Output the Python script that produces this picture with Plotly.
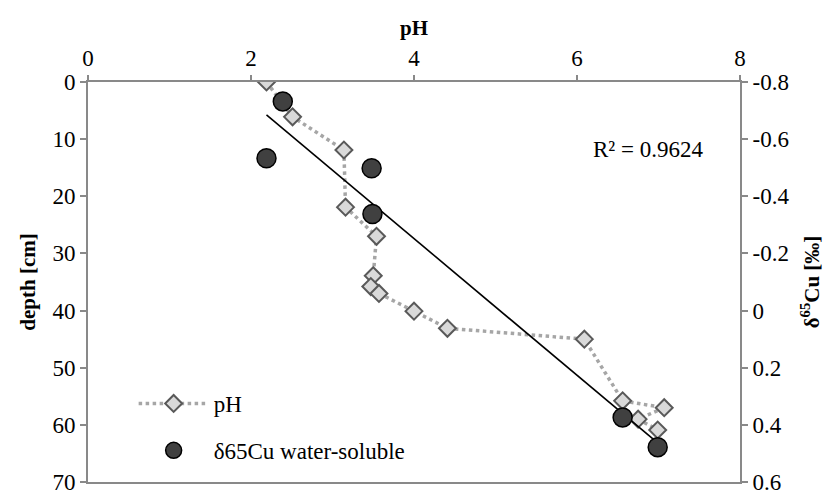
import numpy as np
import plotly.graph_objects as go

# Soil profile: pH against depth
ph_values = [2.19, 2.51, 3.14, 3.16, 3.54, 3.50, 3.47, 3.57, 4.00, 4.41, 6.09, 6.56, 7.07, 6.75, 6.99]
ph_depth = [0, 6.1, 11.9, 21.9, 27.0, 33.9, 35.8, 37.0, 40.1, 43.1, 45.0, 55.8, 57.0, 59.0, 60.9]

# Water-soluble copper isotope composition against pH
cu_ph = [2.39, 2.19, 3.48, 3.49, 6.56, 6.99]
cu_delta = [-0.732, -0.533, -0.498, -0.338, 0.374, 0.478]

x_ticks = [0, 2, 4, 6, 8]
depth_ticks = [0, 10, 20, 30, 40, 50, 60, 70]
delta_ticks = [-0.8, -0.6, -0.4, -0.2, 0, 0.2, 0.4, 0.6]
delta_labels = ["-0.8", "-0.6", "-0.4", "-0.2", "0", "0.2", "0.4", "0.6"]

# Linear trend of delta65Cu versus pH
slope, intercept = np.polyfit(cu_ph, cu_delta, 1)
fit_x = np.array([min(cu_ph), max(cu_ph)])
fit_y = slope * fit_x + intercept
pred = slope * np.array(cu_ph) + intercept
ss_res = np.sum((np.array(cu_delta) - pred) ** 2)
ss_tot = np.sum((np.array(cu_delta) - np.mean(cu_delta)) ** 2)
r2 = 1 - ss_res / ss_tot

FONT = "Liberation Serif"
AXIS = "#898989"
FS = 23

fig = go.Figure()
fig.add_trace(go.Scatter(
    x=ph_values, y=ph_depth, name="pH", mode="lines+markers",
    line=dict(color="#A6A6A6", width=3.5, dash="dot"),
    marker=dict(symbol="diamond", size=13, color="#D9D9D9",
                line=dict(color="#595959", width=2)),
    xaxis="x", yaxis="y", legendgroup="a",
))
fig.add_trace(go.Scatter(
    x=fit_x, y=fit_y, mode="lines", showlegend=False,
    line=dict(color="black", width=1.6),
    xaxis="x", yaxis="y2",
))
fig.add_trace(go.Scatter(
    x=cu_ph, y=cu_delta, name="δ65Cu water-soluble", mode="markers",
    marker=dict(symbol="circle", size=19, color="#404040",
                line=dict(color="black", width=1.5)),
    xaxis="x", yaxis="y2", legendgroup="b",
))

tickfont = dict(family=FONT, size=FS, color="black")
titlefont = dict(family=FONT, size=21, color="black")

fig.update_layout(
    width=826, height=495,
    margin=dict(l=88, r=86, t=82, b=13),
    paper_bgcolor="white", plot_bgcolor="white",
    font=dict(family=FONT, size=FS, color="black"),
    showlegend=True,
    legend=dict(x=0.07, y=0.25, xanchor="left", yanchor="top",
                bgcolor="rgba(0,0,0,0)", itemwidth=70,
                tracegroupgap=14, font=dict(family=FONT, size=FS, color="black")),
    xaxis=dict(
        side="top", range=[0, 8], tickvals=x_ticks, tickfont=tickfont,
        showline=True, linecolor=AXIS, linewidth=2, mirror=True,
        ticks="outside", ticklen=5, tickcolor=AXIS, tickwidth=1.5,
        showgrid=False, zeroline=False, ticklabeloverflow="allow",
        automargin=False,
        title=dict(text="<b>pH</b>", standoff=4, font=titlefont),
    ),
    yaxis=dict(
        range=[70, 0], tickvals=depth_ticks, tickfont=tickfont,
        showline=True, linecolor=AXIS, linewidth=2,
        ticks="outside", ticklen=6, tickcolor=AXIS, tickwidth=1.5,
        showgrid=False, zeroline=False, ticklabeloverflow="allow",
        automargin=False,
        title=dict(text="<b>depth [cm]</b>", standoff=11, font=titlefont),
    ),
    yaxis2=dict(
        overlaying="y", side="right", range=[0.6, -0.8],
        tickvals=delta_ticks, ticktext=delta_labels, tickfont=tickfont,
        showline=True, linecolor=AXIS, linewidth=2,
        ticks="outside", ticklen=6, tickcolor=AXIS, tickwidth=1.5,
        showgrid=False, zeroline=False, ticklabeloverflow="allow",
        automargin=False,
        title=dict(text="<b>δ<sup>65</sup>Cu [‰]</b>", standoff=16, font=titlefont),
    ),
    annotations=[dict(
        x=6.87, y=11.8, xref="x", yref="y",
        text=f"R² = {r2:.4f}", showarrow=False,
        font=dict(size=FS, family=FONT, color="black"),
    )],
)

fig.write_html("out.html")
